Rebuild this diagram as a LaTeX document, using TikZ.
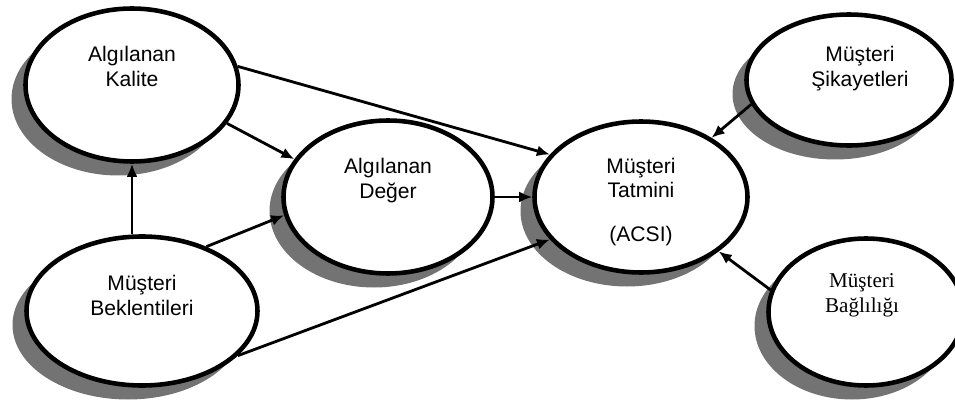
\documentclass[tikz,border=0pt]{standalone}
\usepackage{fontspec}
\setmainfont{Liberation Sans}
\newfontfamily\timesrm{Liberation Serif}
\usetikzlibrary{shapes.geometric,arrows.meta,calc,shadows}

\begin{document}
\begin{tikzpicture}[
    oval/.style={ellipse, draw=black, line width=2.6pt, fill=white, inner sep=0pt,
        drop shadow={shadow xshift=-0.28cm, shadow yshift=-0.28cm, fill=black!55, opacity=1}},
    txt/.style={align=center, font=\fontsize{12}{14}\selectfont, inner sep=0pt},
    arr/.style={-{Latex[length=2.6mm, width=2.2mm]}, line width=1.6pt}
]
    \useasboundingbox (0,0) rectangle (19.1,8.22);

    \node[oval, minimum width=4.26cm, minimum height=3.06cm] (ak) at (2.64,6.52) {};
    \node[oval, minimum width=4.62cm, minimum height=2.98cm] (mb) at (2.84,2.0) {};
    \node[oval, minimum width=4.18cm, minimum height=3.06cm] (ad) at (7.76,4.28) {};
    \node[oval, minimum width=4.26cm, minimum height=3.02cm] (mt) at (12.82,4.28) {};
    \node[oval, minimum width=4.1cm, minimum height=2.62cm] (ms) at (16.98,6.62) {};
    \node[oval, minimum width=3.9cm, minimum height=2.94cm] (mbg) at (17.32,1.98) {};

    \node[txt] (akt) at ($(ak)+(0,0.37)$) {Algılanan\\Kalite};
    \node[txt] (mbt) at ($(mb)+(0,0.31)$) {Müşteri\\Beklentileri};
    \node[txt] (adt) at ($(ad)+(0,0.33)$) {Algılanan\\Değer};
    \node[txt] (mtt) at ($(mt)+(0,-0.1)$) {Müşteri\\Tatmini\\[0.38cm](ACSI)};
    \node[txt] (mst) at ($(ms)+(0.22,0.23)$) {Müşteri\\Şikayetleri};
    \node[txt, font=\timesrm\fontsize{12}{14}\selectfont] (mbgt) at ($(mbg)+(-0.08,0.34)$) {Müşteri\\Bağlılığı};

    \draw[arr] (ak.10) -- (mt.155);
    \draw[arr] (ak.-22) -- (ad.158);
    \draw[arr] (ak.south |- mb.north) -- (ak.south);
    \draw[arr] (mb.45) -- (ad.190);
    \draw[arr] (mb.-25) -- (mt.205);
    \draw[arr] (ad.east) -- (mt.west);
    \draw[arr] (ms.194) -- (mt.40);
    \draw[arr] (mbg.167) -- (mt.-35);
\end{tikzpicture}
\end{document}
